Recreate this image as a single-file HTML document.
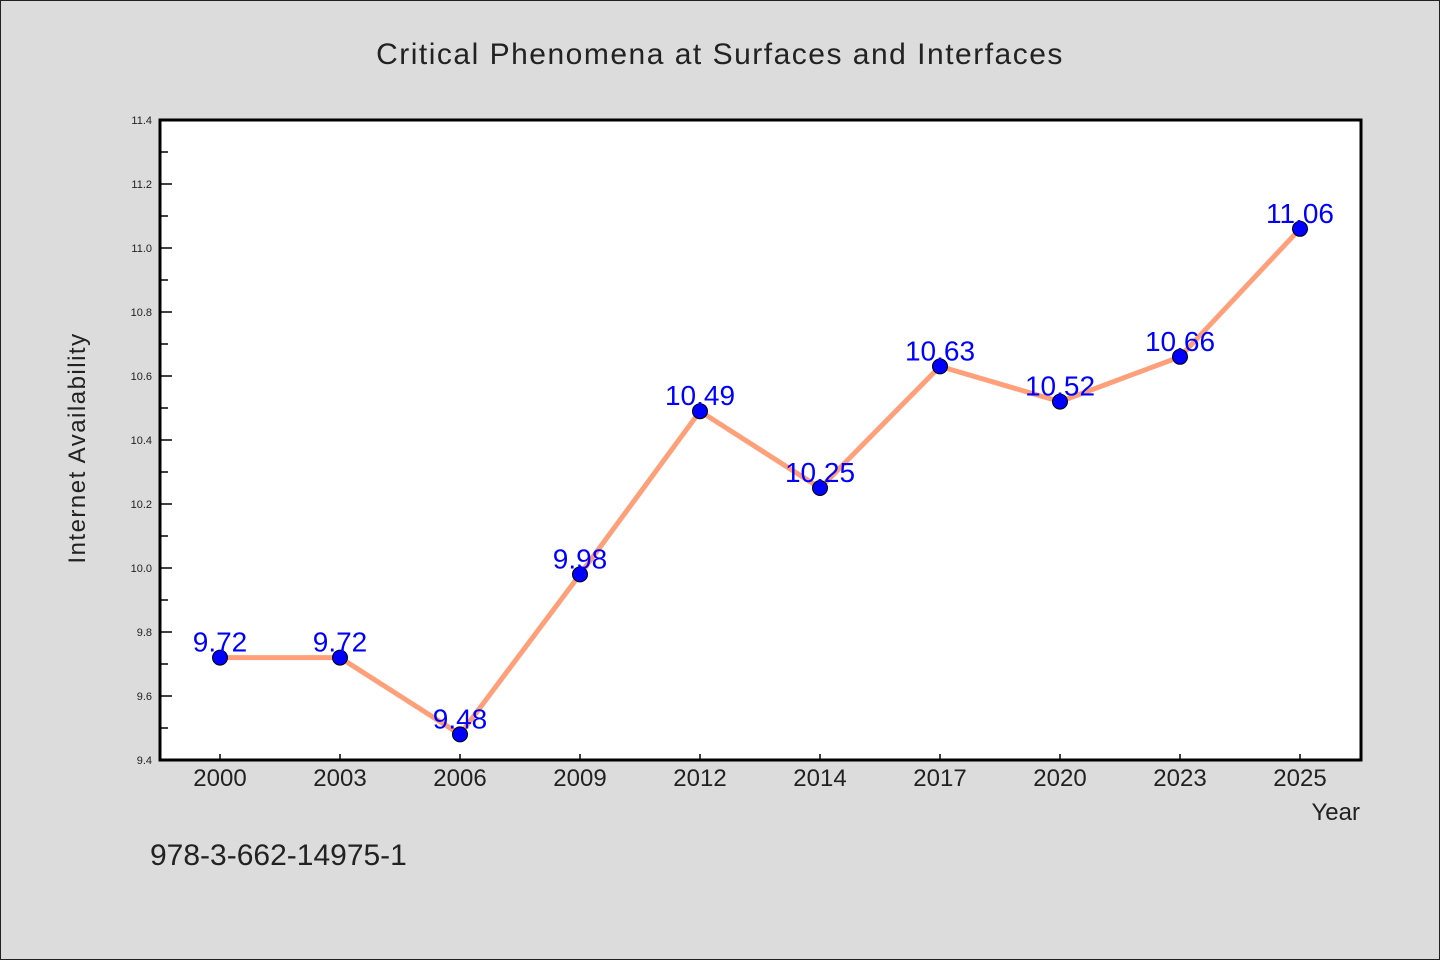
<!DOCTYPE html>
<html><head><meta charset="utf-8"><style>
body{margin:0;background:#dcdcdc;}
svg{display:block;font-family:"WenQuanYi Zen Hei","Liberation Sans",sans-serif;}
</style></head><body>
<svg id="chart" width="1440" height="960">
<rect x="0.5" y="0.5" width="1439" height="959" fill="#dcdcdc" stroke="#222"/>
<text x="720" y="64" text-anchor="middle" font-size="30" fill="#222" letter-spacing="1.5">Critical Phenomena at Surfaces and Interfaces</text>
<rect x="160" y="120" width="1201" height="640" fill="#fff" stroke="#000" stroke-width="3"/>
<g id="yaxis"></g>
<g id="xaxis"></g>
<g id="series"></g>
<text transform="translate(85,448) rotate(-90)" text-anchor="middle" font-size="24" fill="#222" letter-spacing="1.5">Internet Availability</text>
<text x="1360" y="820" text-anchor="end" font-size="24" fill="#222">Year</text>
<text x="150" y="865" font-size="30" fill="#222">978-3-662-14975-1</text>
</svg>
<script>
const categories=["2000","2003","2006","2009","2012","2014","2017","2020","2023","2025"];
const values=[9.72,9.72,9.48,9.98,10.49,10.25,10.63,10.52,10.66,11.06];
const yTicks=[9.4,9.6,9.8,10.0,10.2,10.4,10.6,10.8,11.0,11.2,11.4];
const NS="http://www.w3.org/2000/svg";
const L=160,R=1360,T=120,B=760,yMin=9.4,yMax=11.4;
const x=i=>L+(R-L)/categories.length*(i+0.5);
const y=v=>B-(v-yMin)/(yMax-yMin)*(B-T);
function mk(t,a,p){const e=document.createElementNS(NS,t);for(const k in a)e.setAttribute(k,a[k]);p.appendChild(e);return e;}
const ya=document.getElementById('yaxis'),xa=document.getElementById('xaxis'),s=document.getElementById('series');
yTicks.forEach((v,i)=>{
 const tk=mk('line',{x1:L,x2:L+12,y1:y(v),y2:y(v),stroke:'#000','stroke-width':1.5},ya);
 
 
 const t=mk('text',{x:L-8,y:y(v)+4,'text-anchor':'end','font-size':11,fill:'#222'},ya);
 t.textContent=v.toFixed(1);
 
 
 if(i<yTicks.length-1){
  const m=mk('line',{x1:L,x2:L+8,y1:(y(v)+y(yTicks[i+1]))/2,y2:(y(v)+y(yTicks[i+1]))/2,stroke:'#000','stroke-width':1.5},ya);
  
  
 }
});
categories.forEach((c,i)=>{
 const tk=mk('line',{x1:x(i),x2:x(i),y1:B,y2:B-6,stroke:'#000','stroke-width':1.5},xa);
 
 
 const t=mk('text',{x:x(i),y:B+26,'text-anchor':'middle','font-size':24,fill:'#222'},xa);
 t.textContent=c;
 
 
});
const pl=mk('polyline',{points:values.map((v,i)=>x(i)+','+y(v)).join(' '),fill:'none',stroke:'#ffa07a','stroke-width':5,'stroke-linejoin':'round'},s);


values.forEach((v,i)=>{
 const c=mk('circle',{cx:x(i),cy:y(v),r:7.5,fill:'#0000ff',stroke:'#000','stroke-width':1},s);
 
 
});
values.forEach((v,i)=>{
 const t=mk('text',{x:x(i),y:y(v)-6,'text-anchor':'middle','font-size':28,fill:'#0000ff'},s);
 t.textContent=v.toFixed(2);
 
 
});
</script>
</body></html>
